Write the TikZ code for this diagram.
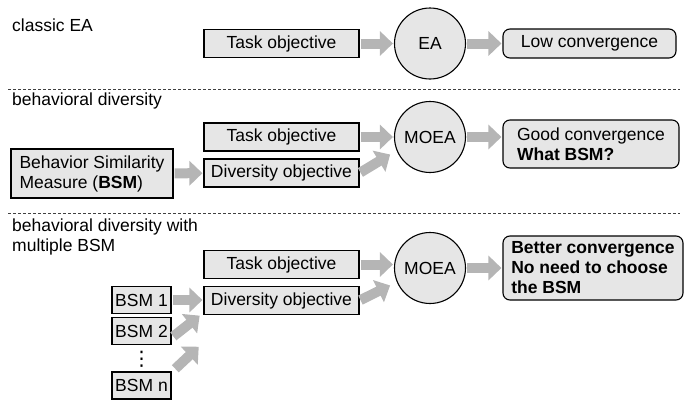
\documentclass[tikz,border=0pt]{standalone}
\usepackage{fontspec}
\setmainfont{Liberation Sans}
\newfontfamily\symfont{DejaVu Sans}
\usetikzlibrary{arrows.meta,calc}
\definecolor{boxfill}{HTML}{E6E6E6}
\definecolor{arrowgray}{HTML}{B5B5B5}
\begin{document}
\begin{tikzpicture}[x=1pt,y=-1pt,
  every node/.style={font=\fontsize{17.5}{20}\selectfont},
  box/.style={draw, line width=1.1pt, fill=boxfill, minimum width=155pt, minimum height=28pt, inner sep=0pt},
  sbox/.style={box, minimum width=59pt, minimum height=27pt},
  rbox/.style={draw, line width=1.1pt, fill=boxfill, rounded corners=7pt, align=left, inner sep=0pt},
  circ/.style={draw, line width=1.1pt, fill=boxfill, circle, minimum size=71pt, inner sep=0pt},
  lbl/.style={anchor=west, inner sep=0pt, align=left},
  fat/.style={draw=arrowgray, line width=10pt, -{Triangle[width=24pt,length=13pt]}, shorten <=1pt, shorten >=1pt},
  sep/.style={draw=black!75, line width=0.8pt, dash pattern=on 3pt off 2pt}]
\useasboundingbox (0,0) rectangle (689,402);

% ---------- section 1 ----------
\node[lbl] (t1) at (12,25) {classic EA};
\node[box] (task1) at (281.5,43.5) {Task objective};
\node[circ] (ea) at (430,43.5) {EA};
\node[rbox, minimum width=173pt, minimum height=29pt] (low) at (589.5,43.5) {Low convergence};
\draw[fat] (task1) -- (ea);
\draw[fat] (ea) -- (low);

\coordinate (d1l) at (8,89);
\coordinate (d1r) at (680,89);
\draw[sep] (d1l) -- (d1r);

% ---------- section 2 ----------
\node[lbl] (t2) at (12,101) {behavioral diversity};
\node[box] (task2) at (281.5,137) {Task objective};
\node[box] (div2) at (281.5,173) {Diversity objective};
\node[box, minimum width=162pt, minimum height=49pt, align=left] (bsm) at (92,173.5) {Behavior Similarity\\Measure (\textbf{BSM})};
\node[circ] (moea2) at (430,137) {MOEA};
\node[rbox, minimum width=176pt, minimum height=48pt] (good) at (591,144) {Good convergence\\\textbf{What BSM?}};
\coordinate (m2in) at ($(moea2)+(-39,17)$);
\draw[fat] (task2) -- (moea2);
\draw[fat] (div2.east) -- (m2in);
\draw[fat] (bsm) -- (div2);
\draw[fat] (moea2.east) -- (moea2.east -| good.west);

\coordinate (d2l) at (8,213);
\coordinate (d2r) at (680,213);
\draw[sep] (d2l) -- (d2r);

% ---------- section 3 ----------
\node[lbl] (t3) at (12,237) {behavioral diversity with\\multiple BSM};
\node[box] (task3) at (281.5,264.5) {Task objective};
\node[box] (div3) at (281.5,300.5) {Diversity objective};
\node[circ] (moea3) at (430,268) {MOEA};
\node[rbox, minimum width=180pt, minimum height=64pt] (better) at (593,268) {\textbf{Better convergence}\\\textbf{No need to choose}\\\textbf{the BSM}};
\node[sbox] (bsm1) at (141.5,300) {BSM 1};
\node[sbox] (bsm2) at (141.5,331) {BSM 2};
\node[inner sep=0pt, font=\symfont\fontsize{20}{20}\selectfont] (dots) at (141.5,359) {⋮};
\node[sbox] (bsmn) at (141.5,385.5) {BSM n};
\coordinate (m3in) at ($(moea3)+(-39,17)$);
\coordinate (d3low) at ($(div3.south west)+(-4,31)$);
\draw[fat] (task3.east) -- (task3.east -| moea3.west);
\draw[fat] (div3.east) -- (m3in);
\draw[fat] (moea3) -- (better);
\draw[fat] (bsm1) -- (bsm1 -| div3.west);
\draw[fat] ($(bsm2.east)+(1,6)$) -- ($(div3.south west)+(-3,0)$);
\draw[fat] ($(bsmn.north east)+(3,-2)$) -- (d3low);
\end{tikzpicture}
\end{document}
